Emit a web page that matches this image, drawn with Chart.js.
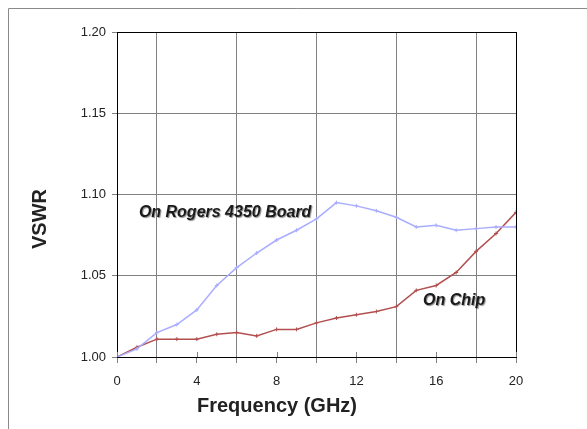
<!DOCTYPE html>
<html>
<head>
<meta charset="utf-8">
<script src="https://cdn.jsdelivr.net/npm/chart.js@4"></script>
<style>
    html, body { margin: 0; padding: 0; background: #fff; }
    #wrap { width: 587px; height: 429px; position: relative; }
</style>
</head>
<body>
<div id="wrap"><canvas id="myChart" width="587" height="429"></canvas></div>
<script>
// frequency points (GHz)
var freqs = [0, 1, 2, 3, 4, 5, 6, 7, 8, 9, 10, 11, 12, 13, 14, 15, 16, 17, 18, 19, 20];
// VSWR
var boardVswr = [1.000, 1.005, 1.015, 1.020, 1.029, 1.044, 1.055, 1.064, 1.072, 1.078, 1.085,
    1.095, 1.093, 1.090, 1.086, 1.080, 1.081, 1.078, 1.079, 1.080, 1.080];
var chipVswr = [1.000, 1.006, 1.011, 1.011, 1.011, 1.014, 1.015, 1.013, 1.017, 1.017, 1.021,
    1.024, 1.026, 1.028, 1.031, 1.041, 1.044, 1.052, 1.065, 1.076, 1.089];
var xTicks = [0, 4, 8, 12, 16, 20];
var yTicks = ['1.00', '1.05', '1.10', '1.15', '1.20'];

function toPoints(vals) {
    return freqs.map(function (f, i) { return { x: f, y: vals[i] }; });
}

var FONT = "'Liberation Sans', Arial, sans-serif";

// outer frame, plot frame, axis titles and line labels
var decorPlugin = {
    id: 'decor',
    beforeDraw: function (chart) {
        var ctx = chart.ctx;
        ctx.save();
        ctx.strokeStyle = '#8a8a8a';
        ctx.lineWidth = 1;
        ctx.beginPath();
        ctx.moveTo(8.5, 429);
        ctx.lineTo(8.5, 8.5);
        ctx.lineTo(587, 8.5);
        ctx.stroke();
        ctx.restore();
    },
    afterDraw: function (chart) {
        var ctx = chart.ctx;
        var a = chart.chartArea;
        var xs = chart.scales.x, ys = chart.scales.y;
        ctx.save();
        ctx.strokeStyle = '#000';
        ctx.lineWidth = 1;
        ctx.strokeRect(Math.round(a.left) + 0.5, Math.round(a.top) + 0.5,
            Math.round(a.right - a.left), Math.round(a.bottom - a.top));

        // small ticks crossing the x axis at the labelled values
        ctx.strokeStyle = '#808080';
        xTicks.forEach(function (t) {
            var px = Math.round(xs.getPixelForValue(t)) + 0.5;
            ctx.beginPath();
            ctx.moveTo(px, a.bottom - 5);
            ctx.lineTo(px, a.bottom);
            ctx.stroke();
        });

        ctx.fillStyle = '#222';
        ctx.font = 'bold 20px ' + FONT;
        ctx.textAlign = 'center';
        ctx.textBaseline = 'middle';
        ctx.fillText('Frequency (GHz)', 277, 406);

        ctx.save();
        ctx.translate(40, 219);
        ctx.rotate(-Math.PI / 2);
        ctx.fillText('VSWR', 0, 0);
        ctx.restore();

        ctx.font = 'italic bold 16px ' + FONT;
        ctx.fillStyle = '#1a1a1a';
        ctx.shadowColor = 'rgba(0,0,0,0.45)';
        ctx.shadowOffsetX = 1;
        ctx.shadowOffsetY = 1;
        ctx.shadowBlur = 1;
        ctx.fillText('On Rogers 4350 Board', xs.getPixelForValue(5.42), ys.getPixelForValue(1.0886));
        ctx.fillText('On Chip', xs.getPixelForValue(16.9), ys.getPixelForValue(1.0345));
        ctx.restore();
    }
};

var ctx = document.getElementById('myChart');
new Chart(ctx, {
    type: 'line',
    data: {
        datasets: [{
            label: 'On Rogers 4350 Board',
            data: toPoints(boardVswr),
            borderColor: '#a9adff',
            borderWidth: 1.5,
            pointStyle: 'cross',
            pointRadius: 2,
            pointBorderWidth: 1,
            pointBorderColor: '#a9adff',
            tension: 0
        }, {
            label: 'On Chip',
            data: toPoints(chipVswr),
            borderColor: '#b24f4f',
            borderWidth: 1.5,
            pointStyle: 'cross',
            pointRadius: 2,
            pointBorderWidth: 1,
            pointBorderColor: '#b24f4f',
            tension: 0
        }]
    },
    options: {
        responsive: false,
        animation: false,
        layout: { padding: { top: 32, right: 71, left: 0, bottom: 0 } },
        plugins: {
            legend: { display: false },
            tooltip: { enabled: false }
        },
        scales: {
            x: {
                type: 'linear',
                min: 0,
                max: 20,
                afterFit: function (s) { s.height = 72; },
                ticks: {
                    stepSize: 2,
                    autoSkip: false,
                    maxRotation: 0,
                    color: '#222',
                    font: { family: FONT, size: 13 },
                    padding: 11,
                    callback: function (v) {
                        return xTicks.indexOf(v) >= 0 ? String(v) : '';
                    }
                },
                grid: {
                    color: function (c) {
                        var v = c.tick ? c.tick.value : 0;
                        return (v % 4 === 2) ? '#808080' : 'rgba(0,0,0,0)';
                    },
                    tickColor: '#808080',
                    tickLength: 6,
                    lineWidth: 1
                },
                border: { color: '#000' }
            },
            y: {
                min: 1.0,
                max: 1.2,
                afterFit: function (s) { s.width = 117; },
                afterBuildTicks: function (s) {
                    s.ticks = yTicks.map(function (t) { return { value: parseFloat(t) }; });
                },
                ticks: {
                    color: '#222',
                    font: { family: FONT, size: 13 },
                    padding: 6,
                    callback: function (v, i) { return yTicks[i]; }
                },
                grid: {
                    color: '#808080',
                    tickColor: '#808080',
                    tickLength: 5,
                    lineWidth: 1
                },
                border: { color: '#000' }
            }
        }
    },
    plugins: [decorPlugin]
});
</script>
</body>
</html>
